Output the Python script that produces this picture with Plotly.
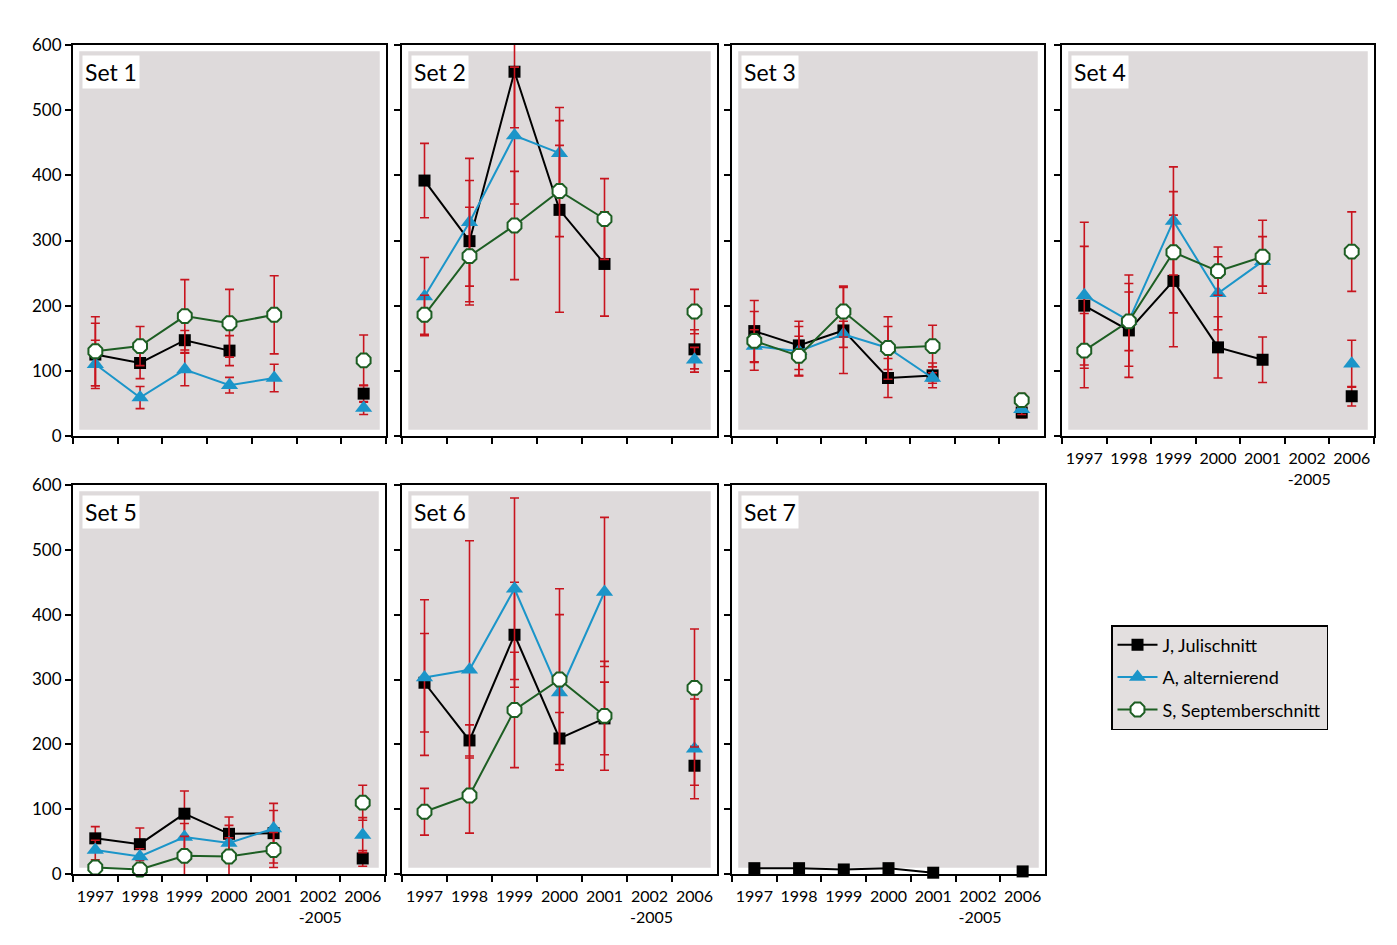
import plotly.graph_objects as go

# ---------------- data ----------------
categories = ["1997", "1998", "1999", "2000", "2001", "2002-2005", "2006"]
tick_labels = ["1997", "1998", "1999", "2000", "2001", "2002<br> -2005", "2006"]
set_names = ["Set 1", "Set 2", "Set 3", "Set 4", "Set 5", "Set 6", "Set 7"]
series_names = ["J, Julischnitt", "A, alternierend", "S, Septemberschnitt"]

# J, Julischnitt (means per set, per year)
J_vals = [
    [125, 112, 147, 131, None, None, 65],
    [392, 299, 559, 347, 264, None, 133],
    [161, 139, 162, 89, 93, None, 36],
    [200, 162, 238, 136, 117, None, 61],
    [55, 46, 93, 62, 63, None, 24],
    [295, 206, 369, 209, 240, None, 167],
    [9, 9, 7, 9, 2, None, 4],
]
J_errs = [
    [48, 24, 15, 23, None, None, 13],
    [57, 93, 86, 157, 80, None, 30],
    [47, 37, 66, 30, 19, None, 8],
    [91, 72, 101, 47, 35, None, 15],
    [18, 25, 35, 26, 46, None, 12],
    [76, 24, 81, 40, 56, None, 30],
    [2, 2, 2, 2, 1, None, 1],
]
# A, alternierend
A_vals = [
    [110, 59, 102, 78, 89, None, 43],
    [214, 328, 461, 434, None, None, 117],
    [138, 130, 156, 135, 89, None, 41],
    [216, 177, 330, 219, 268, None, 111],
    [37, 27, 57, 48, 70, None, 60],
    [303, 315, 440, 280, 435, None, 193],
    [None, None, None, None, None, None, None],
]
A_errs = [
    [37, 17, 25, 12, 21, None, 10],
    [60, 98, 105, 50, None, None, 19],
    [25, 38, 20, 33, 8, None, 8],
    [112, 70, 83, 56, 38, None, 36],
    [15, 12, 21, 27, 28, None, 27],
    [120, 199, 140, 120, 115, None, 77],
    [None, None, None, None, None, None, None],
]
# S, Septemberschnitt
S_vals = [
    [130, 138, 184, 173, 186, None, 116],
    [186, 276, 323, 376, 333, None, 191],
    [146, 123, 191, 135, 138, None, 55],
    [131, 176, 282, 253, 275, None, 283],
    [10, 7, 28, 27, 37, None, 110],
    [96, 121, 253, 300, 244, None, 287],
    [None, None, None, None, None, None, None],
]
S_errs = [
    [53, 30, 56, 52, 60, None, 39],
    [30, 75, 83, 70, 62, None, 34],
    [45, 30, 39, 48, 32, None, 10],
    [57, 45, 93, 37, 56, None, 61],
    [8, 5, 30, 29, 27, None, 27],
    [36, 58, 89, 140, 84, None, 91],
    [None, None, None, None, None, None, None],
]

# ---------------- layout / style ----------------
W, H = 1397, 945
boxes = [(73, 386, 45, 436), (402, 717, 45, 436), (732, 1044, 45, 436), (1062, 1374, 45, 436),
         (73, 385, 485, 874), (402, 717, 485, 874), (732, 1045, 485, 874)]
show_xlabels = [False, False, False, True, True, True, True]
show_ylabels = [True, False, False, False, True, False, False]

FONT = "Lato"
ERR_COLOR = "#c8141e"
PANEL_GRAY = "#dedadb"

styles = [
    dict(line=dict(color="black", width=2),
         marker=dict(symbol="square", size=12, color="black")),
    dict(line=dict(color="#1b95c9", width=2),
         marker=dict(symbol="triangle-up", size=15, color="#1b95c9")),
    dict(line=dict(color="#1d5e23", width=2),
         marker=dict(symbol="octagon", size=15, color="white",
                     line=dict(color="#1d5e23", width=2))),
]

fig = go.Figure()
layout = {}
shapes = []
annotations = []

all_vals = [J_vals, A_vals, S_vals]
all_errs = [J_errs, A_errs, S_errs]

for i in range(7):
    n = i + 1
    xa = "x" if n == 1 else f"x{n}"
    ya = "y" if n == 1 else f"y{n}"
    xkey = "xaxis" if n == 1 else f"xaxis{n}"
    ykey = "yaxis" if n == 1 else f"yaxis{n}"
    x0, x1, y0, y1 = boxes[i]

    for s in range(3):
        fig.add_trace(go.Scatter(
            x=categories, y=all_vals[s][i],
            mode="lines+markers",
            name=series_names[s],
            legendgroup=series_names[s],
            showlegend=(i == 0),
            xaxis=xa, yaxis=ya,
            cliponaxis=False,
            error_y=dict(type="data", array=all_errs[s][i], visible=True,
                         color=ERR_COLOR, thickness=1.6, width=4.5),
            **styles[s],
        ))

    layout[xkey] = dict(
        domain=[x0 / W, x1 / W], anchor=ya, automargin=False,
        type="category", categoryorder="array", categoryarray=categories,
        tickmode="array", tickvals=categories, ticktext=tick_labels,
        tickson="boundaries", range=[-0.5, 6.5], tickangle=0,
        ticklabelstandoff=7,
        showticklabels=show_xlabels[i],
        ticks="outside", ticklen=6, tickwidth=1.5, tickcolor="black",
        showline=True, linecolor="black", linewidth=2, mirror=True,
        showgrid=False, zeroline=False,
        tickfont=dict(family=FONT, size=16, color="black"),
    )
    layout[ykey] = dict(
        domain=[1 - y1 / H, 1 - y0 / H], anchor=xa, automargin=False,
        range=[0, 600], tickmode="linear", tick0=0, dtick=100,
        showticklabels=show_ylabels[i],
        ticks="outside", ticklen=6, tickwidth=1.5, tickcolor="black",
        showline=True, linecolor="black", linewidth=2, mirror=True,
        showgrid=False, zeroline=False,
        tickfont=dict(family=FONT, size=17, color="black"),
    )
    # gray inset panel fill
    shapes.append(dict(type="rect", xref=f"{xa} domain", yref=f"{ya} domain",
                       x0=0.02, x1=0.98, y0=0.016, y1=0.984,
                       fillcolor=PANEL_GRAY, line=dict(width=0), layer="below"))
    annotations.append(dict(text=set_names[i], xref=f"{xa} domain", yref=f"{ya} domain",
                            x=0.03, y=0.975, xanchor="left", yanchor="top",
                            showarrow=False, bgcolor="white", borderpad=2,
                            font=dict(family=FONT, size=23, color="black")))

fig.update_layout(
    **layout,
    shapes=shapes,
    annotations=annotations,
    width=W, height=H,
    margin=dict(l=0, r=0, t=0, b=0),
    paper_bgcolor="white", plot_bgcolor="white",
    showlegend=True,
    legend=dict(x=1111 / W, y=1 - 625 / H, xanchor="left", yanchor="top",
                bgcolor="#e3dfdf", bordercolor="black", borderwidth=1.5,
                font=dict(family=FONT, size=18, color="black"),
                tracegroupgap=6, itemwidth=40),
)

fig.write_html("out.html",
               config={"displayModeBar": False},
               post_script="document.body.style.margin='0';document.body.style.overflow='hidden';")
